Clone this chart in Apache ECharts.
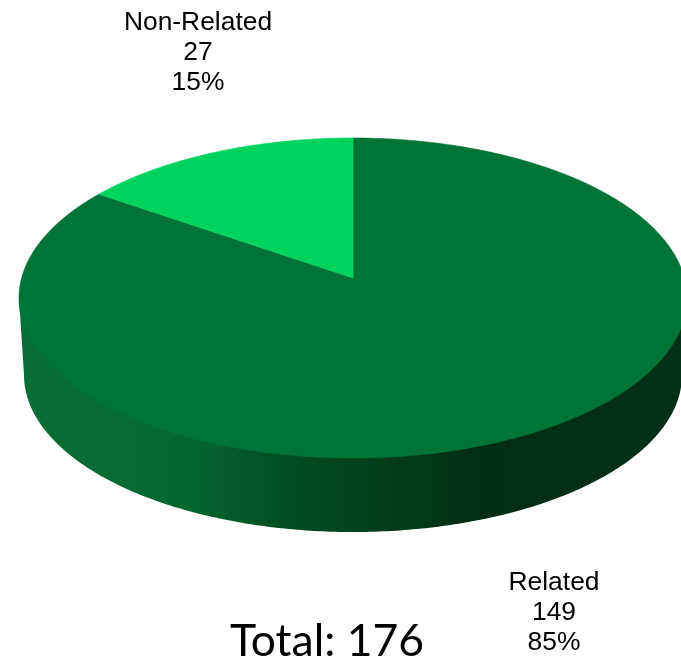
<!DOCTYPE html>
<html>
<head>
<meta charset="utf-8">
<style>html,body{margin:0;padding:0;background:#fff;overflow:hidden}#c{width:681px;height:662px}</style>
<script src="https://cdn.jsdelivr.net/npm/echarts@6/dist/echarts.min.js"></script>
</head>
<body>
<div id="c"></div>
<script>
const categories = ['Related', 'Non-Related'];
const counts = [149, 27];
const percentLabels = ['85%', '15%'];
const sliceColors = ['#007437', '#00D45F'];
const totalLabel = 'Total: 176';

const total = counts.reduce((a, b) => a + b, 0);
const top3d = {cx: 353, cy: 298, rx: 334, ry: 160, apexShift: 20};
const base3d = {cx: 353, cy: 375, rx: 329, ry: 157};
const persp = top3d.apexShift / top3d.ry;
const rxInner = top3d.rx * Math.sqrt(1 - persp * persp);

// A point of the pie's top face, perspective-projected (theta clockwise from 12 o'clock)
function topPoint(theta, r) {
  const u = r * Math.sin(theta), v = r * Math.cos(theta);
  const d = 1 + persp * v;
  const k = top3d.ry * (1 + persp) - top3d.apexShift;
  return [top3d.cx + rxInner * u / d, top3d.cy - (k * v + top3d.apexShift) / d];
}
function sliceAngles(i) {
  let s = 0;
  for (let j = 0; j < i; j++) s += counts[j];
  return [s / total * 2 * Math.PI, (s + counts[i]) / total * 2 * Math.PI];
}
function renderSlice(params, api) {
  const [a0, a1] = sliceAngles(params.dataIndex);
  const n = Math.max(8, Math.round((a1 - a0) * 90));
  const pts = [topPoint(0, 0)];
  for (let i = 0; i <= n; i++) pts.push(topPoint(a0 + (a1 - a0) * i / n, 1));
  const c = sliceColors[params.dataIndex];
  return {type: 'polygon', shape: {points: pts}, style: {fill: c, stroke: c, lineWidth: 0.6}};
}
function renderWall() {
  const pts = [];
  const N = 240;
  pts.push([top3d.cx - top3d.rx, top3d.cy]);
  for (let i = 0; i <= N; i++) {
    const t = Math.PI * i / N;
    pts.push([base3d.cx - base3d.rx * Math.cos(t), base3d.cy + base3d.ry * Math.sin(t)]);
  }
  pts.push([top3d.cx + top3d.rx, top3d.cy]);
  const L = base3d.cx - base3d.rx, W = 2 * base3d.rx;
  const stop = (x, color) => ({offset: Math.max(0, (x - L) / W), color});
  return {
    type: 'polygon', shape: {points: pts},
    style: {fill: {type: 'linear', x: 0, y: 0, x2: 1, y2: 0, colorStops: [
      stop(24, '#076D35'), stop(130, '#056B32'), stop(200, '#04652F'), stop(300, '#024A22'),
      stop(400, '#023C1B'), stop(480, '#012D15'), stop(682, '#022F17')
    ]}}
  };
}
function labelText(i, x, y) {
  return {
    type: 'text', x, y, silent: true,
    style: {
      text: [categories[i], counts[i], percentLabels[i]].join('\n'),
      fontFamily: 'Liberation Sans', fontSize: 26.4,
      lineHeight: 30, fill: '#000', align: 'center', verticalAlign: 'middle'
    }
  };
}
const chart = echarts.init(document.getElementById('c'), null, {renderer: 'canvas'});
chart.setOption({
  animation: false,
  backgroundColor: '#fff',
  series: [
    {type: 'custom', coordinateSystem: 'none', data: [0], renderItem: renderWall, silent: true, clip: false},
    {type: 'custom', coordinateSystem: 'none',
     data: categories.map((n, i) => ({name: n, value: counts[i]})),
     renderItem: renderSlice, silent: true, clip: false}
  ],
  graphic: [
    labelText(1, 198, 53),
    labelText(0, 554, 613),
    {type: 'text', x: 327, y: 642, silent: true,
     style: {text: totalLabel, fontFamily: 'Lato', fontSize: 44.5, fill: '#000', align: 'center', verticalAlign: 'middle'}}
  ]
});
</script>
</body>
</html>
